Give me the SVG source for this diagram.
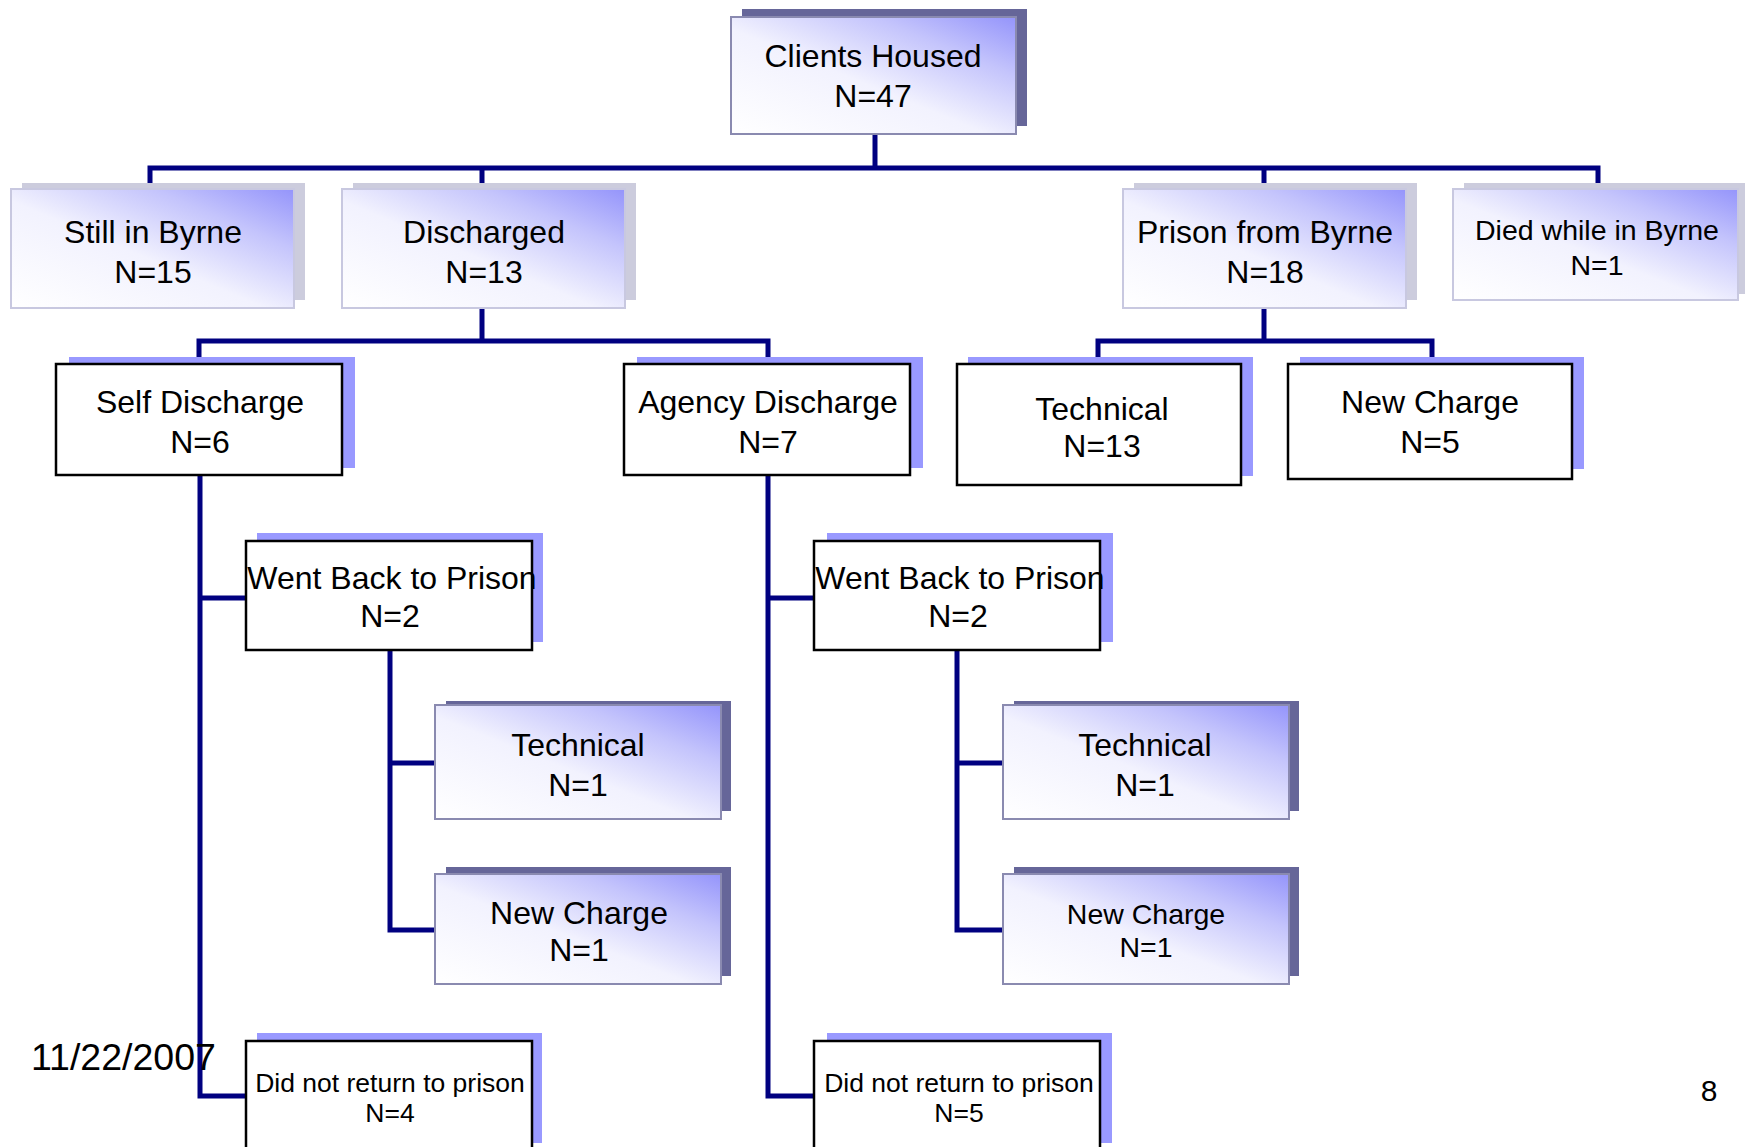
<svg xmlns="http://www.w3.org/2000/svg" width="1745" height="1147" viewBox="0 0 1745 1147">
<defs>
<linearGradient id="g" x1="0" y1="1" x2="1" y2="0">
<stop offset="0" stop-color="#ffffff"/>
<stop offset="0.45" stop-color="#f2f2fe"/>
<stop offset="0.75" stop-color="#c4c4fc"/>
<stop offset="1" stop-color="#9494fb"/>
</linearGradient>
<style>
text{font-family:"Liberation Sans",Arial,sans-serif;fill:#000;text-anchor:middle}
.t{font-size:32px}
.s{font-size:28.5px}
.xs{font-size:26.5px}
.box{fill:#fff;stroke:#000;stroke-width:2.5}
.gbox{fill:url(#g);stroke:#8a8ab0;stroke-width:2}
.lbox{fill:url(#g);stroke:#c8c8e0;stroke-width:2}
.dsh{fill:#666699}
.lsh{fill:#ccccdd}
.bsh{fill:#9999ff}
.con{fill:none;stroke:#000080;stroke-width:5}
</style>
</defs>
<rect width="1745" height="1147" fill="#fff"/>

<g id="connectors">
<path class="con" d="M875,134 V168"/>
<path class="con" d="M150,189 V168 H1598 V189"/>
<path class="con" d="M482,168 V189 M1264,168 V189"/>
<path class="con" d="M482,308 V341 M199,364 V341 H768 V364"/>
<path class="con" d="M1264,308 V341 M1098,364 V341 H1432 V364"/>
<path class="con" d="M200,475 V1096 H246 M200,598 H246"/>
<path class="con" d="M768,475 V1096 H814 M768,598 H814"/>
<path class="con" d="M390,650 V930 H435 M390,763 H435"/>
<path class="con" d="M957,650 V930 H1003 M957,763 H1003"/>
</g>

<g id="clients-housed">
<rect class="dsh" x="742" y="9" width="285" height="117"/>
<rect class="gbox" x="731" y="17" width="285" height="117"/>
<text class="t" x="873" y="67">Clients Housed</text>
<text class="t" x="873" y="107">N=47</text>
</g>

<g id="still-in-byrne">
<rect class="lsh" x="22" y="183" width="283" height="117"/>
<rect class="lbox" x="11" y="189" width="283" height="119"/>
<text class="t" x="153" y="243">Still in Byrne</text>
<text class="t" x="153" y="283">N=15</text>
</g>

<g id="discharged">
<rect class="lsh" x="353" y="183" width="283" height="117"/>
<rect class="lbox" x="342" y="189" width="283" height="119"/>
<text class="t" x="484" y="243">Discharged</text>
<text class="t" x="484" y="283">N=13</text>
</g>

<g id="prison-from-byrne">
<rect class="lsh" x="1134" y="183" width="283" height="117"/>
<rect class="lbox" x="1123" y="189" width="283" height="119"/>
<text class="t" x="1265" y="243">Prison from Byrne</text>
<text class="t" x="1265" y="283">N=18</text>
</g>

<g id="died-while-in-byrne">
<rect class="lsh" x="1464" y="183" width="285" height="111"/>
<rect class="lbox" x="1453" y="189" width="285" height="111"/>
<text class="s" x="1597" y="240">Died while in Byrne</text>
<text class="s" x="1597" y="275">N=1</text>
</g>

<g id="self-discharge">
<rect class="bsh" x="69" y="357" width="286" height="111"/>
<rect class="box" x="56" y="364" width="286" height="111"/>
<text class="t" x="200" y="413">Self Discharge</text>
<text class="t" x="200" y="453">N=6</text>
</g>

<g id="agency-discharge">
<rect class="bsh" x="637" y="357" width="286" height="111"/>
<rect class="box" x="624" y="364" width="286" height="111"/>
<text class="t" x="768" y="413">Agency Discharge</text>
<text class="t" x="768" y="453">N=7</text>
</g>

<g id="technical-13">
<rect class="bsh" x="968" y="357" width="285" height="119"/>
<rect class="box" x="957" y="364" width="284" height="121"/>
<text class="t" x="1102" y="420">Technical</text>
<text class="t" x="1102" y="457">N=13</text>
</g>

<g id="new-charge-5">
<rect class="bsh" x="1300" y="357" width="284" height="112"/>
<rect class="box" x="1288" y="364" width="284" height="115"/>
<text class="t" x="1430" y="413">New Charge</text>
<text class="t" x="1430" y="453">N=5</text>
</g>

<g id="went-back-left">
<rect class="bsh" x="257" y="533" width="286" height="109"/>
<rect class="box" x="246" y="541" width="286" height="109"/>
<text class="t" x="392" y="589">Went Back to Prison</text>
<text class="t" x="390" y="627">N=2</text>
</g>

<g id="went-back-right">
<rect class="bsh" x="827" y="533" width="286" height="109"/>
<rect class="box" x="814" y="541" width="286" height="109"/>
<text class="t" x="960" y="589">Went Back to Prison</text>
<text class="t" x="958" y="627">N=2</text>
</g>

<g id="technical-left">
<rect class="dsh" x="446" y="701" width="285" height="110"/>
<rect class="gbox" x="435" y="705" width="286" height="114"/>
<text class="t" x="578" y="756">Technical</text>
<text class="t" x="578" y="796">N=1</text>
</g>

<g id="new-charge-left">
<rect class="dsh" x="446" y="867" width="285" height="109"/>
<rect class="gbox" x="435" y="874" width="286" height="110"/>
<text class="t" x="579" y="924">New Charge</text>
<text class="t" x="579" y="961">N=1</text>
</g>

<g id="technical-right">
<rect class="dsh" x="1014" y="701" width="285" height="110"/>
<rect class="gbox" x="1003" y="705" width="286" height="114"/>
<text class="t" x="1145" y="756">Technical</text>
<text class="t" x="1145" y="796">N=1</text>
</g>

<g id="new-charge-right">
<rect class="dsh" x="1014" y="867" width="285" height="109"/>
<rect class="gbox" x="1003" y="874" width="286" height="110"/>
<text class="s" x="1146" y="924">New Charge</text>
<text class="s" x="1146" y="957">N=1</text>
</g>

<g id="did-not-return-left">
<rect class="bsh" x="257" y="1033" width="285" height="110"/>
<rect class="box" x="246" y="1041" width="286" height="112"/>
<text class="xs" x="390" y="1092">Did not return to prison</text>
<text class="xs" x="390" y="1122">N=4</text>
</g>

<g id="did-not-return-right">
<rect class="bsh" x="827" y="1033" width="285" height="110"/>
<rect class="box" x="814" y="1041" width="286" height="112"/>
<text class="xs" x="959" y="1092">Did not return to prison</text>
<text class="xs" x="959" y="1122">N=5</text>
</g>

<text x="31" y="1070" style="font-size:37.5px;text-anchor:start">11/22/2007</text>
<text x="1709" y="1101" style="font-size:30px">8</text>
</svg>
